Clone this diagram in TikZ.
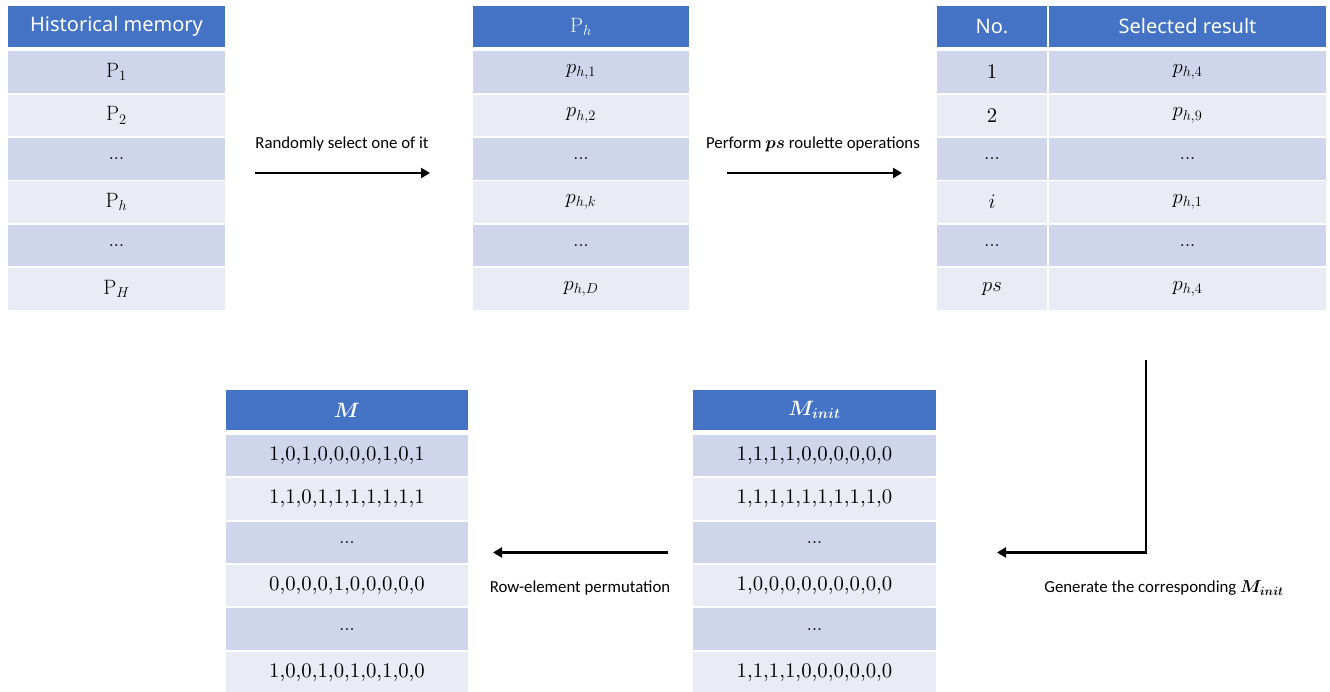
\documentclass[tikz,border=0pt]{standalone}
\usepackage{fontspec}
\usepackage{bm}
\newfontfamily\hdfont{Noto Sans}
\newfontfamily\lblfont{Carlito}
\newfontfamily\cellfont{lmroman10-regular.otf}
\usetikzlibrary{arrows.meta}
\definecolor{hdblue}{HTML}{4472C4}
\definecolor{rowdark}{HTML}{CFD5EA}
\definecolor{rowlight}{HTML}{E9EBF5}
\newcommand{\elp}{{\fontsize{18}{20}\selectfont .\kern0.2pt.\kern0.2pt.}}
\begin{document}
\begin{tikzpicture}[x=1pt,y=-1pt,
  cell/.style={rectangle, inner sep=0pt, minimum height=41.5pt, font=\cellfont\fontsize{20.74}{24}\selectfont},
  hd/.style={cell, fill=hdblue, text=white, minimum height=41pt, font=\hdfont\fontsize{20}{24}\selectfont},
  dk/.style={cell, fill=rowdark},
  lt/.style={cell, fill=rowlight},
  flow/.style={line width=2.4pt, -{Triangle[length=9pt,width=10pt]}},
  lbl/.style={font=\lblfont\fontsize{16.8}{20}\selectfont, inner sep=0pt}]
\useasboundingbox (0,0) rectangle (1330,692);

% ---- historical memory ----
\begin{scope}[every node/.append style={minimum width=217pt}]
\node[hd] (hm)  at (116.5,26.5) {Historical memory};
\node[dk] (hm1) at (116.5,72)   {$\mathrm{P}_1$};
\node[lt] (hm2) at (116.5,115.4){$\mathrm{P}_2$};
\node[dk] (hm3) at (116.5,158.8){\elp};
\node[lt] (hm4) at (116.5,202.2){$\mathrm{P}_h$};
\node[dk] (hm5) at (116.5,245.6){\elp};
\node[lt] (hm6) at (116.5,289)  {$\mathrm{P}_H$};
\end{scope}

% ---- chosen memory entry ----
\begin{scope}[every node/.append style={minimum width=216pt}]
\node[hd, font=\cellfont\fontsize{20.74}{24}\selectfont] (ph) at (581,26.5) {$\mathrm{P}_h$};
\node[dk] (ph1) at (581,72)   {$p_{h,1}$};
\node[lt] (ph2) at (581,115.4){$p_{h,2}$};
\node[dk] (ph3) at (581,158.8){\elp};
\node[lt] (ph4) at (581,202.2){$p_{h,k}$};
\node[dk] (ph5) at (581,245.6){\elp};
\node[lt] (ph6) at (581,289)  {$p_{h,D}$};
\end{scope}

% ---- roulette results ----
\begin{scope}[every node/.append style={minimum width=110pt}]
\node[hd] (no)  at (992,26.5) {No.};
\node[dk] (no1) at (992,72)   {1};
\node[lt] (no2) at (992,115.4){2};
\node[dk] (no3) at (992,158.8){\elp};
\node[lt] (no4) at (992,202.2){$i$};
\node[dk] (no5) at (992,245.6){\elp};
\node[lt] (no6) at (992,289)  {$ps$};
\end{scope}
\begin{scope}[every node/.append style={minimum width=277pt}]
\node[hd] (sr)  at (1187.5,26.5) {Selected result};
\node[dk] (sr1) at (1187.5,72)   {$p_{h,4}$};
\node[lt] (sr2) at (1187.5,115.4){$p_{h,9}$};
\node[dk] (sr3) at (1187.5,158.8){\elp};
\node[lt] (sr4) at (1187.5,202.2){$p_{h,1}$};
\node[dk] (sr5) at (1187.5,245.6){\elp};
\node[lt] (sr6) at (1187.5,289)  {$p_{h,4}$};
\end{scope}

% ---- initial matrix ----
\begin{scope}[every node/.append style={minimum width=243pt}]
\node[hd, minimum height=40pt, font=\cellfont\fontsize{20.74}{24}\selectfont] (mi) at (814.5,410) {$\bm{M_{init}}$};
\node[dk] (mi1) at (814.5,455.5){1,1,1,1,0,0,0,0,0,0};
\node[lt] (mi2) at (814.5,498.9){1,1,1,1,1,1,1,1,1,0};
\node[dk] (mi3) at (814.5,542.3){\elp};
\node[lt] (mi4) at (814.5,585.7){1,0,0,0,0,0,0,0,0,0};
\node[dk] (mi5) at (814.5,629.1){\elp};
\node[lt] (mi6) at (814.5,672.5){1,1,1,1,0,0,0,0,0,0};
\end{scope}

% ---- permuted matrix ----
\begin{scope}[every node/.append style={minimum width=242pt}]
\node[hd, minimum height=40pt, font=\cellfont\fontsize{20.74}{24}\selectfont] (m) at (347,410) {$\bm{M}$};
\node[dk] (m1) at (347,455.5){1,0,1,0,0,0,0,1,0,1};
\node[lt] (m2) at (347,498.9){1,1,0,1,1,1,1,1,1,1};
\node[dk] (m3) at (347,542.3){\elp};
\node[lt] (m4) at (347,585.7){0,0,0,0,1,0,0,0,0,0};
\node[dk] (m5) at (347,629.1){\elp};
\node[lt] (m6) at (347,672.5){1,0,0,1,0,1,0,1,0,0};
\end{scope}

% ---- connectors ----
\coordinate (a1s) at (255,173);  \coordinate (a1e) at (430,173);
\coordinate (a2s) at (727,173);  \coordinate (a2e) at (902,173);
\coordinate (a3s) at (1146,360); \coordinate (a3c) at (1146,552.5); \coordinate (a3e) at (997,552.5);
\coordinate (a4s) at (668,552.5);  \coordinate (a4e) at (493,552.5);

\draw[flow] (a1s) -- (a1e);
\draw[flow] (a2s) -- (a2e);
\draw[flow] (a3s) -- (a3c) -- (a3e);
\draw[flow] (a4s) -- (a4e);

\node[lbl] (l1) at (342,144) {Randomly select one of it};
\node[lbl] (l2) at (813,144) {Perform $\bm{ps}$ roulette operations};
\node[lbl] (l3) at (1164,588) {Generate the corresponding $\bm{M_{init}}$};
\node[lbl] (l4) at (580,588) {Row-element permutation};
\end{tikzpicture}
\end{document}
